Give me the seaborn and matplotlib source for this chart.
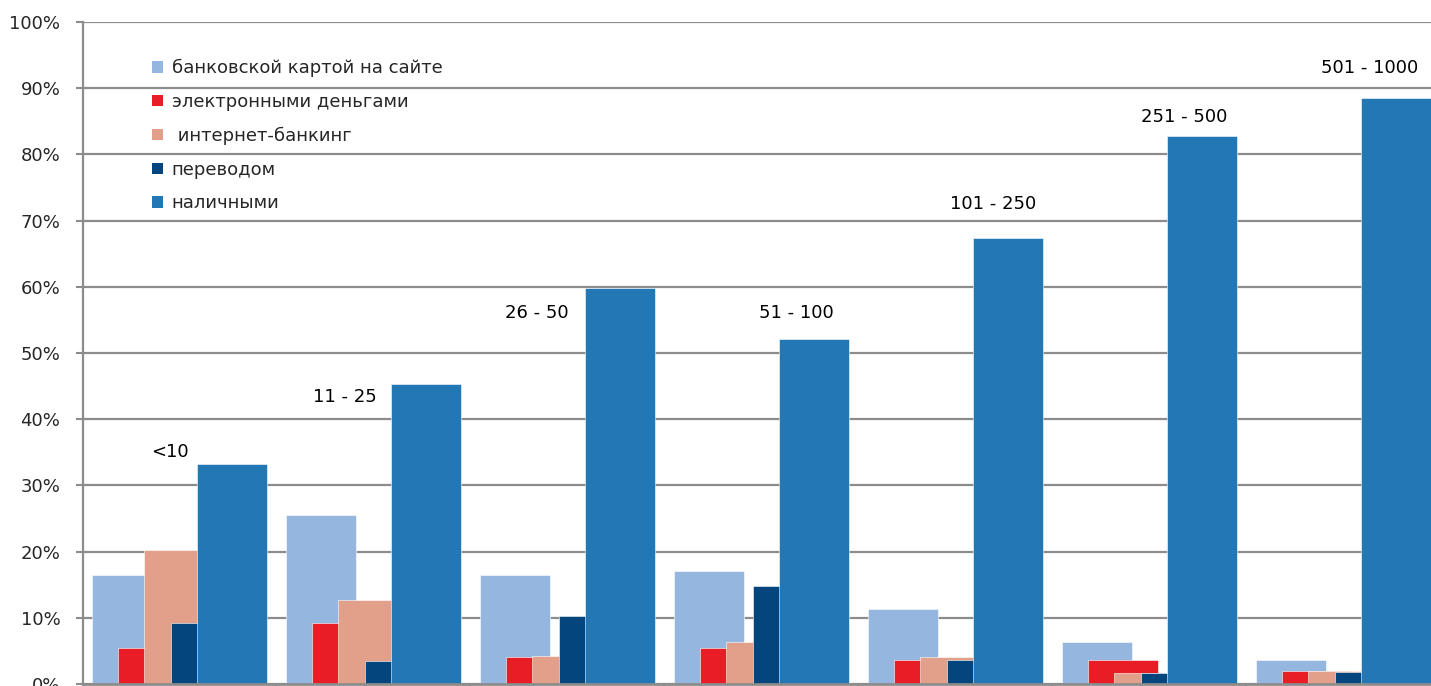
import numpy as np
import matplotlib
matplotlib.use("Agg")
import matplotlib.pyplot as plt
import seaborn as sns
from matplotlib.patches import Patch
from matplotlib.ticker import PercentFormatter

# --- data (share of payments, %) ---
groups = ["<10", "11 - 25", "26 - 50", "51 - 100", "101 - 250", "251 - 500", "501 - 1000"]
series = ["банковской картой на сайте", "электронными деньгами", " интернет-банкинг",
          "переводом", "наличными"]
card = [16.5, 25.6, 16.5, 17.0, 11.4, 6.4, 3.6]
emoney = [5.4, 9.2, 4.1, 5.4, 3.6, 3.6, 1.9]
ibank = [20.3, 12.7, 4.2, 6.4, 4.1, 1.6, 1.9]
transfer = [9.2, 3.4, 10.2, 14.8, 3.6, 1.6, 1.8]
cash = [33.2, 45.3, 59.8, 52.1, 67.4, 82.8, 88.5]

colors = ["#95b7df", "#e91d25", "#e2a08a", "#05457d", "#2277b4"]
# where the group label sits relative to the top of the cash bar (pixels)
label_offsets = [(-62, 12), (-81, -13), (-83, -25), (-18, 26), (-15, 34), (-18, 19), (-26, 30)]

sns.set_style("white")
plt.rcParams["font.family"] = ["DejaVu Sans"]

fig = plt.figure(figsize=(14.31, 6.86), dpi=100)
ax = fig.add_axes([82.5 / 1431, 2 / 686, 1358 / 1431, 662 / 686])

pos = np.arange(len(groups))
step = 0.1355
bar_w = 0.361
all_vals = [card, emoney, ibank, transfer, cash]
for i, (vals, col) in enumerate(zip(all_vals, colors)):
    sns.barplot(x=pos + (i - 2) * step, y=vals, native_scale=True, width=bar_w,
                color=col, saturation=1, errorbar=None, ax=ax, zorder=2,
                edgecolor="white", linewidth=0.4)

# group labels above the cash bars
for k, (g, v) in enumerate(zip(groups, cash)):
    dx, dy = label_offsets[k]
    ax.annotate(g, xy=(pos[k] + 2 * step, v), xytext=(dx, dy), textcoords="offset pixels",
                ha="center", va="center", fontsize=13, color="black", zorder=5)

grey = "#8c8c8c"
ax.set_ylim(0, 100)
ax.set_xlim(-0.5, len(groups) - 0.5)
ax.yaxis.set_major_locator(plt.MultipleLocator(10))
ax.yaxis.set_major_formatter(PercentFormatter(100, decimals=0))
ax.set_xticks(np.arange(len(groups) + 1) - 0.5)
ax.set_xticklabels([])
ax.set_xlabel("")
ax.set_ylabel("")
ax.yaxis.grid(True, color=grey, lw=1.6)
ax.set_axisbelow(True)
for s in ["top", "right"]:
    ax.spines[s].set_visible(False)
ax.spines["left"].set_color(grey)
ax.spines["left"].set_linewidth(1.6)
ax.spines["bottom"].set_color(grey)
ax.spines["bottom"].set_linewidth(2)
ax.tick_params(axis="y", direction="out", length=5, width=1.5, color=grey,
               labelsize=13, pad=11, left=True)
ax.tick_params(axis="x", direction="out", length=5, width=1.5, color=grey, bottom=True)

handles = [Patch(facecolor=c, edgecolor="none") for c in colors]
ax.legend(handles, series, loc="upper left", bbox_to_anchor=(0.051, 0.944), frameon=False,
          fontsize=13, handlelength=0.6, handleheight=0.6, handletextpad=0.5,
          labelspacing=0.87, borderpad=0, borderaxespad=0)

fig.savefig("out.png", dpi=100)
